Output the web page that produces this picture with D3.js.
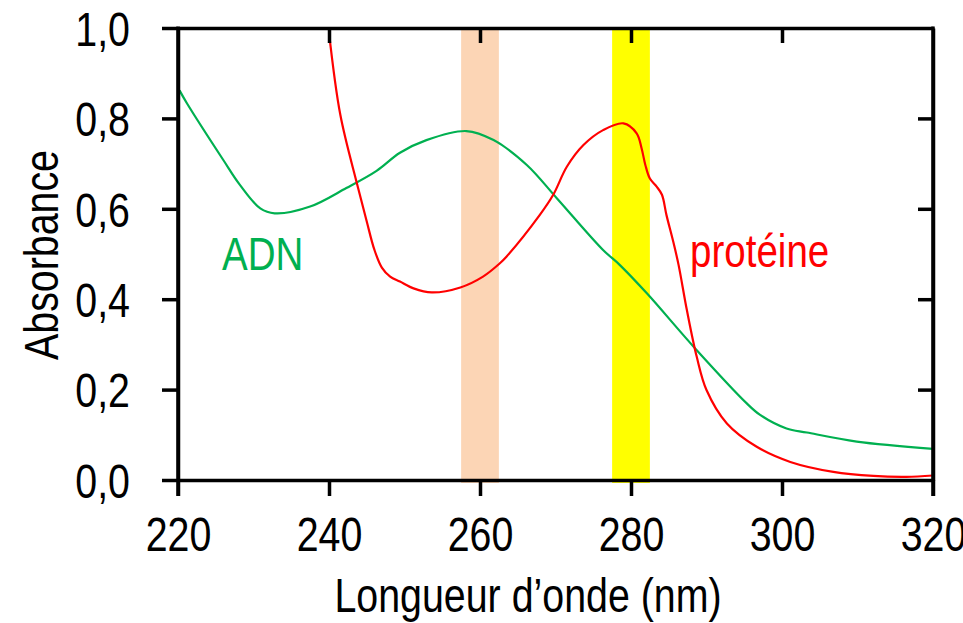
<!DOCTYPE html>
<html>
<head>
<meta charset="utf-8">
<script src="https://cdn.jsdelivr.net/npm/d3@7"></script>
<style>
  html, body { margin: 0; padding: 0; background: #fff; }
  svg { display: block; }
  text { font-family: 'Liberation Sans', Arial, sans-serif; }
</style>
</head>
<body>
<svg id="chart" width="963" height="623"></svg>
<script>
// ---- data ----
const adnWavelength = [220.2, 221.2, 226.0, 228.2, 230.9, 232.8, 237.5, 242.3, 246.3, 249.4, 252.9, 258.2, 261.8, 266.2, 270.2, 276.3, 278.5, 282.1, 288.5, 295.3, 297.1, 300.6, 303.3, 309.9, 320.0];
const adnAbsorbance = [0.862, 0.833, 0.708, 0.653, 0.601, 0.590, 0.605, 0.646, 0.684, 0.724, 0.752, 0.772, 0.752, 0.697, 0.623, 0.509, 0.476, 0.413, 0.291, 0.170, 0.144, 0.114, 0.105, 0.085, 0.069];

const protWavelength = [240.0, 241.5, 243.7, 245.0, 246.0, 247.0, 248.1, 249.4, 251.2, 253.6, 257.4, 260.4, 262.6, 263.5, 267.9, 269.7, 271.5, 273.7, 276.3, 279.0, 280.75, 281.4, 281.9, 282.5, 283.4, 284.1, 284.7, 285.6, 286.3, 287.4, 288.7, 290.0, 292.7, 296.6, 301.1, 306.8, 312.1, 316.5, 320.0];
const protAbsorbance = [0.99, 0.808, 0.656, 0.572, 0.51, 0.47, 0.450, 0.439, 0.424, 0.415, 0.426, 0.450, 0.479, 0.494, 0.586, 0.631, 0.693, 0.741, 0.774, 0.789, 0.767, 0.734, 0.697, 0.667, 0.649, 0.631, 0.586, 0.527, 0.476, 0.376, 0.273, 0.199, 0.125, 0.074, 0.040, 0.018, 0.009, 0.007, 0.010];

const bands = [
  { from: 257.5, to: 262.5, color: "#FCD5B5" },
  { from: 277.5, to: 282.5, color: "#FFFF00" }
];

const xTicks = [220, 240, 260, 280, 300, 320];
const yTicks = [0, 0.2, 0.4, 0.6, 0.8, 1.0];
const seriesLabels = ["ADN", "protéine"];
const xTitle = "Longueur d\u2019onde (nm)";
const yTitle = "Absorbance";

// ---- layout ----
const svg = d3.select("#chart");
const mLeft = 178, mRight = 933, mTop = 28, mBottom = 480;
const NARROW = 0.82; // emulate a narrow (condensed) sans font
const x = d3.scaleLinear().domain([220, 320]).range([mLeft, mRight]);
const y = d3.scaleLinear().domain([0, 1]).range([mBottom, mTop]);
const fmt = d => d3.format(".1f")(d).replace(".", ",");

// bands
svg.append("g").selectAll("rect").data(bands).join("rect")
  .attr("x", d => x(d.from))
  .attr("width", d => x(d.to) - x(d.from))
  .attr("y", y(1))
  .attr("height", y(0) - y(1) + 3)
  .attr("fill", d => d.color);

// lines
const line = d3.line().x(d => x(d[0])).y(d => y(d[1])).curve(d3.curveCatmullRom.alpha(0.5));
const adn = adnWavelength.map((w, i) => [w, adnAbsorbance[i]]);
const prot = protWavelength.map((w, i) => [w, protAbsorbance[i]]);

svg.append("path").datum(adn).attr("d", line)
  .attr("fill", "none").attr("stroke", "#00B050").attr("stroke-width", 2.2);
svg.append("path").datum(prot).attr("d", line)
  .attr("fill", "none").attr("stroke", "#FF0000").attr("stroke-width", 2.2);

// axes
function styleAxis(g) {
  g.selectAll(".domain").attr("stroke", "#000").attr("stroke-width", 3.5);
  g.selectAll(".tick line").attr("stroke", "#000").attr("stroke-width", 3.5);
  g.selectAll(".tick text").attr("fill", "#000").style("font-size", "48px")
    .each(function () {
      const t = d3.select(this);
      const tx = +t.attr("x") || 0;
      t.attr("x", tx / NARROW).attr("transform", `scale(${NARROW},1)`);
    });
}

svg.append("g").attr("transform", `translate(0,${mBottom})`)
  .call(d3.axisBottom(x).tickValues(xTicks).tickSize(16).tickSizeOuter(0).tickPadding(21).tickFormat(d3.format("d")))
  .call(styleAxis);

svg.append("g").attr("transform", `translate(${mLeft},0)`)
  .call(d3.axisLeft(y).tickValues(yTicks).tickSize(16).tickSizeOuter(0).tickPadding(32).tickFormat(fmt))
  .call(styleAxis)
  .selectAll(".tick text").attr("dy", "0.36em");

svg.append("g").attr("transform", `translate(0,${mTop})`)
  .call(d3.axisTop(x).tickValues([240, 260, 280, 300]).tickSize(-15).tickSizeOuter(0).tickFormat(""))
  .call(styleAxis);

svg.append("g").attr("transform", `translate(${mRight},0)`)
  .call(d3.axisRight(y).tickValues([0.2, 0.4, 0.6, 0.8]).tickSize(-15).tickSizeOuter(0).tickFormat(""))
  .call(styleAxis);

// extend corners (left axis bottom, right axis bottom)
svg.append("line").attr("x1", mLeft).attr("x2", mLeft).attr("y1", mTop - 1.5).attr("y2", mBottom + 16)
  .attr("stroke", "#000").attr("stroke-width", 3.5);
svg.append("line").attr("x1", mRight).attr("x2", mRight).attr("y1", mTop - 1.5).attr("y2", mBottom + 16)
  .attr("stroke", "#000").attr("stroke-width", 3.5);

// titles
svg.append("text").attr("transform", `translate(528,612) scale(${NARROW},1)`).attr("text-anchor", "middle")
  .style("font-size", "48px").attr("fill", "#000").text(xTitle);
svg.append("text").attr("transform", `translate(58,255) rotate(-90) scale(${NARROW},1)`).attr("text-anchor", "middle")
  .style("font-size", "48px").attr("fill", "#000").text(yTitle);

// series labels
svg.append("text").attr("transform", `translate(222,270) scale(${NARROW},1)`).style("font-size", "47px")
  .attr("fill", "#00B050").text(seriesLabels[0]);
svg.append("text").attr("transform", `translate(690,267) scale(${NARROW},1)`).style("font-size", "47px")
  .attr("fill", "#FF0000").text(seriesLabels[1]);
</script>
</body>
</html>
